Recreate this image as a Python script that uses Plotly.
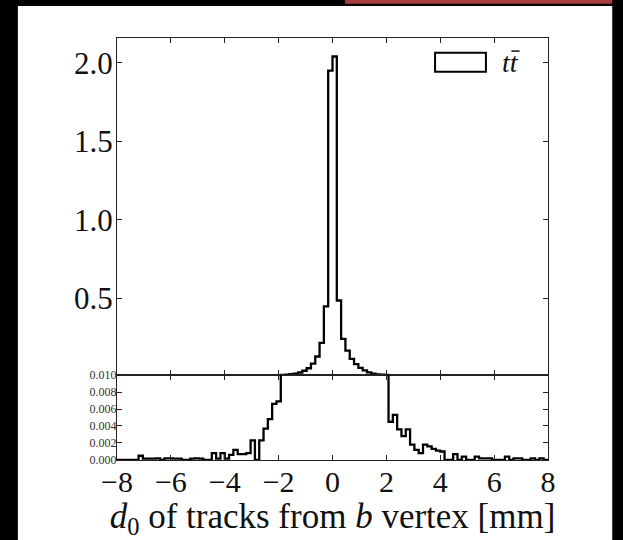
import numpy as np
import plotly.graph_objects as go
from plotly.subplots import make_subplots

# d0 histogram of tracks from the b vertex (ttbar), 100 bins over [-8, 8] mm
bin_lo, bin_hi, n_bins = -8.0, 8.0, 100
d0_density = [
    0.0, 0.0, 0.0, 0.0, 0.0, 0.0005, 0.00016, 0.00016, 0.00016, 0.0002,
    0.0, 0.0002, 0.0002, 0.00016, 0.00016, 0.0, 0.0, 0.00016, 0.0002, 0.00016,
    0.0, 0.0, 0.0008, 0.00016, 0.0008, 0.00016, 0.0006, 0.0012, 0.0007, 0.0007,
    0.0008, 0.0023, 0.0, 0.0023, 0.0037, 0.0048, 0.0066, 0.0069, 0.0105, 0.012,
    0.015, 0.019, 0.026, 0.037, 0.053, 0.083, 0.128, 0.215, 0.447, 1.95,
    2.04, 0.485, 0.24, 0.166, 0.113, 0.08, 0.056, 0.039, 0.027, 0.019,
    0.014, 0.0115, 0.0104, 0.0045, 0.0053, 0.0036, 0.0028, 0.0036, 0.0018, 0.0012,
    0.0008, 0.0018, 0.0016, 0.0013, 0.0011, 0.001, 0.0, 0.0, 0.0007, 0.0,
    0.0004, 0.0, 0.0, 0.0004, 0.0002, 0.0002, 0.0002, 0.0, 0.0, 0.0,
    0.0004, 0.0, 0.0002, 0.0002, 0.0, 0.0, 0.0002, 0.0, 0.0002, 0.0,
]
sample_label = "<i>tt</i>"

x_ticks = [-8, -6, -4, -2, 0, 2, 4, 6, 8]
x_tick_text = ["\u22128", "\u22126", "\u22124", "\u22122", "0", "2", "4", "6", "8"]
upper_ticks = [0.5, 1.0, 1.5, 2.0]
lower_ticks = [0.0, 0.002, 0.004, 0.006, 0.008, 0.010]
split_value = 0.010

edges = np.linspace(bin_lo, bin_hi, n_bins + 1)
step_x = list(edges)
step_y = list(d0_density) + [d0_density[-1]]

SERIF = "Liberation Serif"
INK = "#111111"

fig = make_subplots(rows=2, cols=1, shared_xaxes=True, vertical_spacing=0,
                    row_heights=[0.7986, 0.2014])

for row in (1, 2):
    fig.add_trace(go.Scatter(x=step_x, y=step_y, mode="lines", line_shape="hv",
                             line=dict(color="black", width=2.3),
                             showlegend=False, hoverinfo="skip"), row=row, col=1)

axis_common = dict(showline=True, linecolor="#222222", linewidth=1.2, mirror="allticks",
                   ticks="inside", ticklen=5, tickwidth=1, tickcolor="#222222",
                   showgrid=False, zeroline=False)

fig.update_xaxes(range=[bin_lo, bin_hi], tickvals=x_ticks, ticktext=x_tick_text,
                 **axis_common)
fig.update_xaxes(showticklabels=False, row=1, col=1)
fig.update_xaxes(showticklabels=True, row=2, col=1, ticklabelstandoff=-5,
                 tickfont=dict(family=SERIF, size=30, color=INK),
                 title=dict(text="<i>d</i><sub>0</sub> of tracks from <i>b</i> vertex [mm]",
                            font=dict(family=SERIF, size=35, color=INK), standoff=0))

fig.update_yaxes(range=[split_value, 2.158], tickvals=upper_ticks, tickformat=".1f",
                 tickfont=dict(family=SERIF, size=31, color=INK), ticklabelstandoff=-3,
                 row=1, col=1, **axis_common)
fig.update_yaxes(range=[0, split_value], tickvals=lower_ticks, tickformat=".3f",
                 tickfont=dict(family=SERIF, size=12, color="#333333"), ticklabelstandoff=-3,
                 row=2, col=1, **axis_common)

# page framing
fig.add_shape(type="rect", xref="paper", yref="paper", x0=-0.23, x1=1.149,
              y0=-0.2, y1=1.076, fillcolor="white", line_width=0, layer="below")
fig.add_shape(type="rect", xref="paper", yref="paper", x0=0.529, x1=1.149,
              y0=1.081, y1=1.092, fillcolor="#a83c3c", line_width=0, layer="below")

# legend: outlined patch, label, and the bar over the second t
fig.add_shape(type="rect", xref="paper", yref="paper", x0=0.738, x1=0.856,
              y0=0.920, y1=0.965, fillcolor="white", line=dict(color="black", width=2))
fig.add_annotation(xref="paper", yref="paper", x=0.912, y=0.941, text=sample_label,
                   xanchor="center", yanchor="middle", showarrow=False,
                   font=dict(family=SERIF, size=28, color=INK))
fig.add_shape(type="line", xref="paper", yref="paper", x0=0.915, x1=0.934,
              y0=0.969, y1=0.969, line=dict(color=INK, width=1.5))

fig.update_layout(width=623, height=540, margin=dict(l=117, r=75, t=38, b=80),
                  paper_bgcolor="black", plot_bgcolor="white", showlegend=False)

fig.write_html("out.html")
